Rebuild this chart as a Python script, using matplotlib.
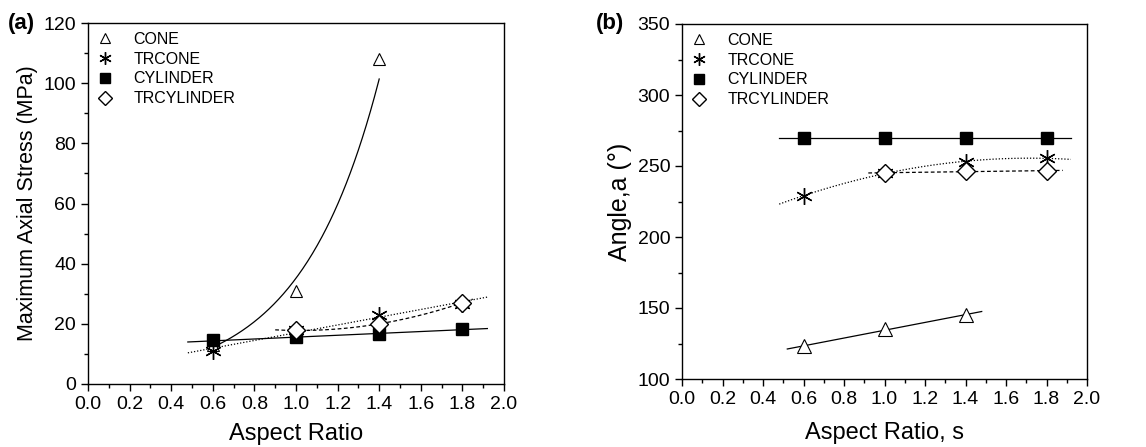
import matplotlib
matplotlib.use('Agg')
from matplotlib import pyplot as plt
from matplotlib.ticker import MultipleLocator
import numpy as np

plt.rcParams['font.family'] = ['Liberation Sans', 'DejaVu Sans']

ratio = np.array([0.6, 1.0, 1.4, 1.8])

# (a) maximum axial stress, MPa
stress_cone = np.array([13.0, 31.0, 108.0])
stress_trcone = np.array([11.0, 18.0, 23.0, 26.5])
stress_cyl = np.array([14.5, 15.5, 16.5, 18.3])
stress_trcyl = np.array([17.8, 20.0, 27.0])

# (b) angle, degrees
angle_cone = np.array([123.0, 135.0, 145.0])
angle_trcone = np.array([229.0, 245.0, 253.0, 255.5])
angle_cyl = np.array([270.0, 270.0, 270.0, 270.0])
angle_trcyl = np.array([245.0, 246.5, 246.5])

labels = ['CONE', 'TRCONE', 'CYLINDER', 'TRCYLINDER']
asterisk = (6, 2, 0)


def fit_line(ax, x, y, x0, x1, deg, ls, log=False):
    xs = np.linspace(x0, x1, 200)
    if log:
        p = np.polyfit(x, np.log(y), deg)
        ys = np.exp(np.polyval(p, xs))
    else:
        p = np.polyfit(x, y, deg)
        ys = np.polyval(p, xs)
    ax.plot(xs, ys, color='black', lw=0.9, ls=ls, zorder=1)


def style_axes(ax, ymin, ymax, ymaj, ymin_step):
    ax.set_xlim(0, 2.0)
    ax.set_ylim(ymin, ymax)
    ax.xaxis.set_major_locator(MultipleLocator(0.2))
    ax.xaxis.set_minor_locator(MultipleLocator(0.1))
    ax.yaxis.set_major_locator(MultipleLocator(ymaj))
    ax.yaxis.set_minor_locator(MultipleLocator(ymin_step))
    ax.xaxis.set_major_formatter(matplotlib.ticker.FormatStrFormatter('%.1f'))
    ax.tick_params(which='major', direction='out', length=5, width=1, labelsize=14, top=False, right=False)
    ax.tick_params(which='minor', direction='out', length=3, width=1, top=False, right=False)
    for s in ax.spines.values():
        s.set_linewidth(1)


def markers(ax, xc, yc, xt, yt, xs, ys, xd, yd, tri):
    ax.plot(xc, yc, ls='none', marker='^', ms=tri, mfc='white', mec='black', mew=0.8, label=labels[0], zorder=3)
    ax.plot(xt, yt, ls='none', marker=asterisk, ms=12, mec='black', mew=1.0, label=labels[1], zorder=3)
    ax.plot(xs, ys, ls='none', marker='s', ms=9, mfc='black', mec='black', label=labels[2], zorder=3)
    ax.plot(xd, yd, ls='none', marker='D', ms=9, mfc='white', mec='black', mew=1.0, label=labels[3], zorder=4)
    ax.legend(loc='upper left', frameon=False, fontsize=11.5, handletextpad=1.3, labelspacing=0.3,
              borderaxespad=0.15, handlelength=1.0, markerscale=0.75)


fig = plt.figure(figsize=(11.46, 4.47), dpi=100)
ax1 = fig.add_axes([88 / 1146, 1 - 384 / 447, 416 / 1146, 361 / 447])
ax2 = fig.add_axes([682 / 1146, 1 - 379 / 447, 405 / 1146, 355 / 447])

# panel (a)
fit_line(ax1, ratio[:3], stress_cone, 0.63, 1.4, 1, '-', log=True)
fit_line(ax1, ratio, stress_trcone, 0.48, 1.92, 1, (0, (1, 1.5)))
fit_line(ax1, ratio, stress_cyl, 0.48, 1.92, 1, '-')
fit_line(ax1, ratio[1:], stress_trcyl, 0.9, 1.85, 2, (0, (3, 2)))
markers(ax1, ratio[:3], stress_cone, ratio, stress_trcone, ratio, stress_cyl, ratio[1:], stress_trcyl, 9)
style_axes(ax1, 0, 120, 20, 10)
ax1.set_xlabel('Aspect Ratio', fontsize=17, labelpad=7)
ax1.set_ylabel('Maximum Axial Stress (MPa)', fontsize=15.5)
fig.text(8 / 1146, 1 - 24 / 447, '(a)', fontsize=16, fontweight='bold', va='center')

# panel (b)
fit_line(ax2, ratio[:3], angle_cone, 0.52, 1.48, 1, '-')
fit_line(ax2, ratio, angle_trcone, 0.48, 1.92, 2, (0, (1, 1.5)))
fit_line(ax2, ratio, angle_cyl, 0.48, 1.92, 1, '-')
fit_line(ax2, ratio[1:], angle_trcyl, 0.92, 1.88, 1, (0, (3, 2)))
markers(ax2, ratio[:3], angle_cone, ratio, angle_trcone, ratio, angle_cyl, ratio[1:], angle_trcyl, 10)
style_axes(ax2, 100, 350, 50, 25)
ax2.set_xlabel('Aspect Ratio, s', fontsize=17, labelpad=10)
ax2.set_ylabel('Angle,a (°)', fontsize=18)
fig.text(596 / 1146, 1 - 24 / 447, '(b)', fontsize=16, fontweight='bold', va='center')

plt.savefig('out.png', dpi=100)
